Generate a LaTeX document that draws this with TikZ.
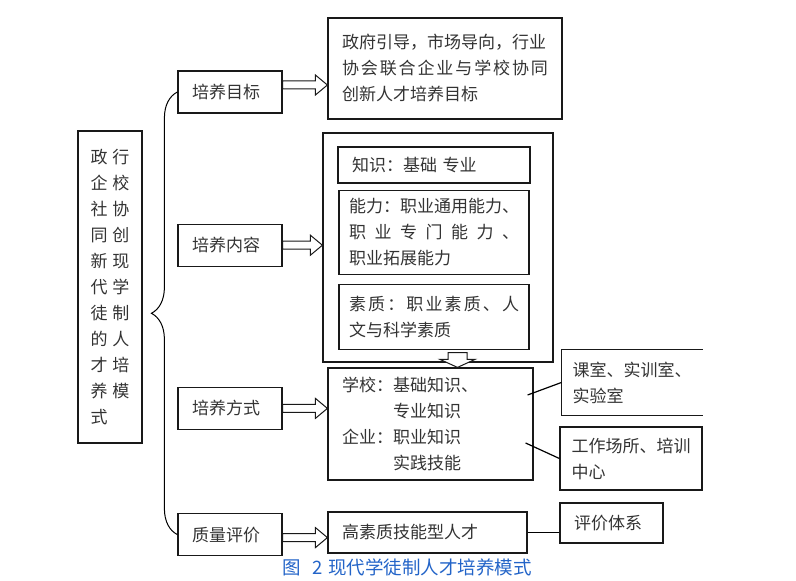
\documentclass[tikz,border=0pt]{standalone}
\usepackage{fontspec}
\usepackage{tikz}
\usetikzlibrary{positioning, calc, decorations.pathreplacing}
\newfontfamily\zhfont{Noto Sans CJK SC}
\newcommand{\zhtext}{\zhfont\fontsize{17pt}{26pt}\selectfont}
\newcommand{\zhcap}{\zhfont\fontsize{18.5pt}{22pt}\selectfont}
\definecolor{capblue}{RGB}{35,100,200}

\begin{document}
\begin{tikzpicture}[x=1pt, y=1pt, node distance=6pt,
    box/.style={draw=black!90, line width=1.2pt, text=black!80, font=\zhtext, align=left, inner xsep=14pt, inner ysep=0pt},
    stage/.style={box, minimum width=104pt, minimum height=42pt, text width=76pt},
    fat/.style={draw=black!90, line width=1pt, fill=white,
        to path={let \p1=(\tikztostart), \p2=(\tikztotarget) in
        (\x1,\y1+4pt) -- (\x2-12pt,\y1+4pt) -- (\x2-12pt,\y1+10pt) -- (\x2,\y1) -- (\x2-12pt,\y1-10pt) -- (\x2-12pt,\y1-4pt) -- (\x1,\y1-4pt) -- cycle}},
    fatdown/.style={draw=black!90, line width=1pt, fill=white,
        to path={let \p1=(\tikztostart), \p2=(\tikztotarget) in
        (\x1-9.5pt,\y1) -- (\x1-9.5pt,\y2+8pt) -- (\x1-17.5pt,\y2+8pt) -- (\x1,\y2) -- (\x1+17.5pt,\y2+8pt) -- (\x1+9.5pt,\y2+8pt) -- (\x1+9.5pt,\y1) -- cycle}}]
    \useasboundingbox (0,0) rectangle (796,581);

    % left: the model and its four parts
    \node[box, minimum width=64pt, minimum height=312pt, text width=39pt, inner xsep=12.5pt] (A) at (110,294)
        {政\hspace{5pt}行\\企\hspace{5pt}校\\社\hspace{5pt}协\\同\hspace{5pt}创\\新\hspace{5pt}现\\代\hspace{5pt}学\\徒\hspace{5pt}制\\的\hspace{5pt}人\\才\hspace{5pt}培\\养\hspace{5pt}模\\式};
    \node[stage] (B) at (230,489) {培养目标};
    \node[stage] (C) [below = 110pt of B] {培养内容};
    \node[stage] (D) [below = 120pt of C] {培养方式};
    \node[stage] (E) [below = 83pt of D] {质量评价};

    \node[box, minimum width=234pt, minimum height=101pt, text width=206pt] (F) at (445,512.5)
        {政府引导，市场导向，行业\\协\hfill 会\hfill 联\hfill 合\hfill 企\hfill 业\hfill 与\hfill 学\hfill 校\hfill 协\hfill 同\\创新人才培养目标};

    \node[box, minimum width=230pt, minimum height=229pt] (G) at (438,333.5) {};
    \node[box, minimum width=192pt, minimum height=36pt, text width=164pt] (H) at (434,416) {知识：基础 专业};
    \node[box, minimum width=190pt, minimum height=84pt, text width=170pt, inner xsep=10pt] (I) [below = 6pt of H]
        {能力：职业通用能力、\\职\hfill 业\hfill 专\hfill 门\hfill 能\hfill 力\hfill 、\\职业拓展能力};
    \node[box, minimum width=190pt, minimum height=65pt, text width=170pt, inner xsep=10pt] (J) [below = 9pt of I]
        {素\hfill 质\hfill ：\hfill 职\hfill 业\hfill 素\hfill 质\hfill 、\hfill 人\\文与科学素质};

    \node[box, minimum width=205pt, minimum height=112pt, text width=177pt] (K) at (430.5,157)
        {学校：基础知识、\\\hspace*{3em}专业知识\\企业：职业知识\\\hspace*{3em}实践技能};
    \node[box, draw=none, minimum width=140pt, minimum height=65pt, inner xsep=10pt] (L) at (632,198.5) {课室、实训室、\\实验室};
    \node[box, minimum width=142pt, minimum height=63pt, inner xsep=10pt] (M) at (631,122.5) {工作场所、培训\\中心};
    \node[box, minimum width=199pt, minimum height=41pt, text width=171pt] (N) at (427.5,48.5) {高素质技能型人才};
    \node[box, minimum width=103pt, minimum height=40pt, text width=75pt] (O) at (611.5,58) {评价体系};
    \node[text=capblue, font=\zhcap] (P) at (407,14) {图\hspace{12pt}2\hspace{5pt}现代学徒制人才培养模式};

    \draw[draw=black!90, line width=1.2pt] (L.north east) -- (L.north west) -- (L.south west) -- (L.south east);

    \draw[line width=1pt, decorate, decoration={brace, amplitude=26pt}] (E.west) -- (B.west);

    \draw[fat] ($(B.east)+(0,7)$) to (F.west);
    \draw[fat] (C.east) to (G.west);
    \draw[fat] (D.east) to (K.west);
    \draw[fat] ($(E.east)+(0,-3)$) to (N.west);
    \draw[fatdown] ($(G.south)+(19.5,10)$) to (K.north);

    \coordinate (k1) at ($(K.east)+(-6,29)$);
    \coordinate (k2) at ($(K.east)+(-8,-19)$);
    \draw[line width=1.2pt] (k1) -- (L.west);
    \draw[line width=1.2pt] (k2) -- (M.west);
    \draw[line width=1.2pt] (N.east) -- (N.east -| O.west);
\end{tikzpicture}
\end{document}
